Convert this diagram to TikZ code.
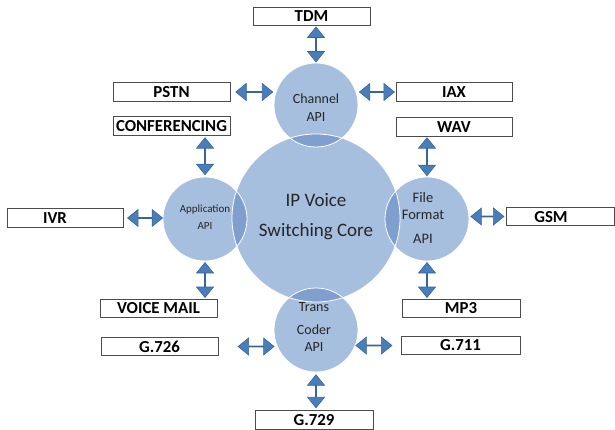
\documentclass[tikz,border=0pt]{standalone}
\usepackage{fontspec}
\setmainfont{Carlito}
\usetikzlibrary{shapes.arrows}
\definecolor{circfill}{HTML}{A7BFDE}
\definecolor{lensfill}{HTML}{7FA0CF}
\definecolor{arrfill}{HTML}{4A7EBB}
\definecolor{arrdraw}{HTML}{36659A}
\begin{document}
\begin{tikzpicture}[x=1pt,y=-1pt,
  box/.style={draw=black!70, line width=0.8pt, fill=white, minimum width=117pt, minimum height=18.5pt, inner sep=0pt, font=\fontsize{16.8}{16.8}\selectfont\bfseries},
  boxtext/.style={inner sep=0pt, font=\fontsize{16.8}{16.8}\selectfont\bfseries},
  bubble/.style={circle, fill=circfill, minimum size=84pt, inner sep=0pt},
  ring/.style={draw=white, line width=0.8pt},
  ctext/.style={align=center, text=black!85, inner sep=0pt},
  darr/.style={double arrow, fill=arrfill, draw=arrdraw, line width=0.6pt, minimum width=17pt, double arrow head extend=5pt, double arrow tip angle=78, inner sep=0pt, sloped, anchor=center}]
\useasboundingbox (0,0) rectangle (615,430);
% circles
\node[circle, fill=circfill, minimum size=168pt, inner sep=0pt] (core) at (316,218) {};
\node[bubble] (chan) at (316,105) {};
\node[bubble] (app) at (205,219) {};
\node[bubble] (file) at (427,219) {};
\node[bubble] (trans) at (316,330) {};
% overlaps
\begin{scope}
  \clip (316,218) circle (84);
  \fill[lensfill] (316,105) circle (42);
  \fill[lensfill] (205,219) circle (42);
  \fill[lensfill] (427,219) circle (42);
  \fill[lensfill] (316,330) circle (42);
\end{scope}
\draw[ring] (316,218) circle (84);
\draw[ring] (316,105) circle (42);
\draw[ring] (205,219) circle (42);
\draw[ring] (427,219) circle (42);
\draw[ring] (316,330) circle (42);
% circle texts
\node[ctext, font=\fontsize{19}{30}\selectfont] at (316,217) {IP Voice\\Switching Core};
\node[ctext, font=\fontsize{14}{18}\selectfont] at (316,108) {Channel\\API};
\node[ctext, font=\fontsize{11}{17}\selectfont] at (205,217.5) {Application\\API};
\node[ctext, font=\fontsize{14.5}{17}\selectfont] at (423,217.5) {File\\Format\\[7pt]API};
\node[ctext, font=\fontsize{14}{17}\selectfont] at (314,327) {Trans\\[6pt]Coder\\API};
% boxes
\node[box] (tdm) at (311.5,16.5) {TDM};
\node[box] (pstn) at (171.5,92) {PSTN};
\node[box, minimum width=116pt] (iax) at (454,92) {IAX};
\node[box] (conf) at (171.5,126) {CONFERENCING};
\node[box, minimum width=116pt] (wav) at (454,127) {WAV};
\node[box, minimum width=116pt] (ivr) at (65,218) {};
\node[boxtext] at (55,218) {IVR};
\node[box, minimum width=108pt] (gsm) at (560,216.5) {};
\node[boxtext] at (551,217) {GSM};
\node[box] (vm) at (158.5,308.5) {VOICE MAIL};
\node[box, minimum width=118pt] (mp3) at (461,308.5) {MP3};
\node[box] (g726) at (159.5,346.5) {G.726};
\node[box, minimum width=119pt] (g711) at (460.5,345.5) {G.711};
\node[box, minimum width=118pt] (g729) at (314,420) {G.729};
% arrows
\path (chan.north |- tdm.south) -- node[darr, minimum height=35pt] {} (chan.north);
\path (pstn.east) -- node[darr, minimum height=37pt, pos=0.55] {} (pstn.east -| chan.west);
\path (iax.west) -- node[darr, minimum height=35pt] {} (iax.west -| chan.east);
\path (app.north |- conf.south) -- node[darr, minimum height=37pt] {} (app.north);
\path (file.north |- wav.south) -- node[darr, minimum height=38pt] {} (file.north);
\path (ivr.east) -- node[darr, minimum height=35pt, pos=0.55] {} (ivr.east -| app.west);
\path (gsm.west) -- node[darr, minimum height=33pt] {} (gsm.west -| file.east);
\path (app.south) -- node[darr, minimum height=35pt] {} (app.south |- vm.north);
\path (file.south) -- node[darr, minimum height=35pt] {} (file.south |- mp3.north);
\path (g726.east) -- node[darr, minimum height=36pt, pos=0.68] {} (g726.east -| trans.west);
\path (g711.west) -- node[darr, minimum height=36pt, pos=0.63] {} (g711.west -| trans.east);
\path (trans.south) -- node[darr, minimum height=33pt] {} (trans.south |- g729.north);
\end{tikzpicture}
\end{document}
